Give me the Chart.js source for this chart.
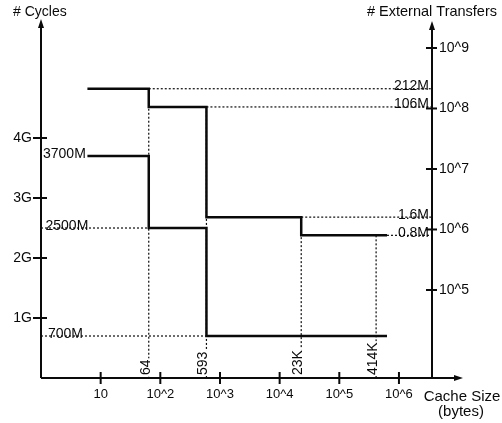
<!DOCTYPE html>
<html><head><meta charset="utf-8">
<script src="https://cdn.jsdelivr.net/npm/chart.js@4.4.0/dist/chart.umd.min.js"></script>
<style>html,body{margin:0;padding:0;background:#fff}canvas{display:block}</style>
</head><body>
<canvas id="c" width="502" height="423"></canvas>
<script>
// ---- data (cache size in bytes, values in millions) ----
const breakValues = [64, 593, 23000, 414000];
const breakLabels = ['64', '593', '23K', '414K'];
const cyclesX = [6, 64, 593, 630000];
const cyclesM = [3700, 2500, 700, 700];
const cycleLabels = ['3700M', '2500M', '700M'];
const transfersX = [6, 64, 593, 23000, 630000];
const transfersM = [212, 106, 1.6, 0.8, 0.8];
const transferLabels = ['212M', '106M', '1.6M', '0.8M'];
const xTicks = [10, 100, 1000, 1e4, 1e5, 1e6];
const xTickLabels = ['10', '10^2', '10^3', '10^4', '10^5', '10^6'];
const yTicks = [1000, 2000, 3000, 4000];
const yTickLabels = ['1G', '2G', '3G', '4G'];
const y2Ticks = [1e5, 1e6, 1e7, 1e8, 1e9];
const y2TickLabels = ['10^5', '10^6', '10^7', '10^8', '10^9'];

const INK = '#0a0a0a';
const FONT = '"Liberation Sans", Arial, Helvetica, sans-serif';

function valueBefore(xs, vs, b) {
  let v = vs[0];
  for (let i = 0; i < xs.length; i++) if (xs[i] < b) v = vs[i];
  return v;
}

const overlay = {
  id: 'overlay',
  beforeDraw(chart) {
    const ctx = chart.ctx;
    ctx.save(); ctx.fillStyle = '#fff'; ctx.fillRect(0, 0, chart.width, chart.height); ctx.restore();
  },
  beforeDatasetsDraw(chart) {
    const {ctx, chartArea: a, scales: {x, y, y2}} = chart;
    const X = v => x.getPixelForValue(v), Y = v => y.getPixelForValue(v), Y2 = v => y2.getPixelForValue(v * 1e6);
    const seg = (x1, y1, x3, y3) => { ctx.beginPath(); ctx.moveTo(x1, y1); ctx.lineTo(x3, y3); ctx.stroke(); };
    ctx.save();
    ctx.strokeStyle = INK; ctx.lineWidth = 1.2; ctx.setLineDash([2, 2]);
    // transfers: dotted to right axis from the end of each level
    for (let i = 0; i < transferLabels.length; i++)
      seg(X(transfersX[i + 1]), Y2(transfersM[i]), a.right, Y2(transfersM[i]));
    // cycles: dotted from left axis to the end of the 2500M and 700M levels
    for (let i = 1; i < cycleLabels.length; i++)
      seg(a.left, Y(cyclesM[i]), X(cyclesX[i + 1]), Y(cyclesM[i]));
    // vertical dotted lines at the breakpoints
    breakValues.forEach(b => {
      const top = Math.min(Y(valueBefore(cyclesX, cyclesM, b)), Y2(valueBefore(transfersX, transfersM, b)));
      seg(X(b), top, X(b), a.bottom);
    });
    ctx.setLineDash([]);
    // axes
    ctx.lineWidth = 2;
    ctx.fillStyle = INK;
    seg(a.left, a.bottom, a.left, a.top + 4);
    seg(a.right, a.bottom, a.right, a.top + 6);
    seg(a.left, a.bottom, 458, a.bottom);
    const up = (px, tip) => { ctx.beginPath(); ctx.moveTo(px, tip); ctx.lineTo(px - 3, tip + 9); ctx.lineTo(px + 3, tip + 9); ctx.closePath(); ctx.fill(); };
    up(a.left, a.top - 1);
    up(a.right, a.top + 1);
    ctx.beginPath(); ctx.moveTo(463, a.bottom); ctx.lineTo(454, a.bottom - 3); ctx.lineTo(454, a.bottom + 3); ctx.closePath(); ctx.fill();
    yTicks.forEach(v => seg(a.left - 8, Y(v), a.left + 6, Y(v)));
    y2Ticks.forEach(v => seg(a.right - 6, y2.getPixelForValue(v), a.right + 5, y2.getPixelForValue(v)));
    xTicks.forEach(v => seg(X(v), a.bottom - 6, X(v), a.bottom + 6));
    ctx.restore();
  },
  afterDatasetsDraw(chart) {
    const {ctx, chartArea: a, scales: {x, y, y2}} = chart;
    const X = v => x.getPixelForValue(v), Y = v => y.getPixelForValue(v), Y2 = v => y2.getPixelForValue(v * 1e6);
    ctx.save();
    ctx.fillStyle = INK;
    ctx.font = '14px ' + FONT;
    ctx.textBaseline = 'alphabetic';
    ctx.textAlign = 'left';
    cycleLabels.forEach((t, i) => ctx.fillText(t, a.left + 2 + i * 2.5, Y(cyclesM[i]) + 1.5));
    ctx.textAlign = 'right';
    transferLabels.forEach((t, i) => ctx.fillText(t, a.right - 3, Y2(transfersM[i]) + 1.5));
    // rotated breakpoint labels
    breakLabels.forEach((t, i) => {
      ctx.save();
      ctx.translate(X(breakValues[i]) - 3, a.bottom - 3);
      ctx.rotate(-Math.PI / 2);
      const w = ctx.measureText(t).width;
      ctx.fillStyle = '#fff';
      ctx.fillRect(-1, -6, w + 2, 12);
      ctx.fillStyle = INK;
      ctx.textAlign = 'left';
      ctx.textBaseline = 'middle';
      ctx.fillText(t, 0, 0);
      ctx.restore();
    });
    // titles
    ctx.textAlign = 'left';
    ctx.textBaseline = 'alphabetic';
    ctx.font = '14px ' + FONT;
    ctx.fillText('# Cycles', 13, 16);
    ctx.font = '14.5px ' + FONT;
    ctx.fillText('# External Transfers', 367, 16);
    ctx.font = '15px ' + FONT;
    ctx.textAlign = 'center';
    ctx.fillText('Cache Size', 462, 401);
    ctx.fillText('(bytes)', 461, 416);
    ctx.restore();
  }
};

const lineStyle = { stepped: true, borderColor: INK, borderWidth: 2.5, pointRadius: 0, fill: false, tension: 0 };

new Chart(document.getElementById('c'), {
  type: 'line',
  data: {
    datasets: [
      Object.assign({ label: '# Cycles', yAxisID: 'y', data: cyclesX.map((v, i) => ({ x: v, y: cyclesM[i] })) }, lineStyle),
      Object.assign({ label: '# External Transfers', yAxisID: 'y2', data: transfersX.map((v, i) => ({ x: v, y: transfersM[i] * 1e6 })) }, lineStyle)
    ]
  },
  options: {
    responsive: false, animation: false, devicePixelRatio: 1, events: [],
    layout: { padding: { top: 20, left: 0, right: 0, bottom: 0 } },
    plugins: { legend: { display: false }, tooltip: { enabled: false } },
    scales: {
      x: {
        type: 'logarithmic', position: 'bottom', min: 1, max: 3.58e6,
        grid: { display: false, drawTicks: false }, border: { display: false },
        afterBuildTicks: s => { s.ticks = xTicks.map(v => ({ value: v })); },
        afterFit: s => { s.height = 45; },
        ticks: { callback: (v, i) => xTickLabels[i], autoSkip: false, maxRotation: 0, padding: 9, color: INK, font: { family: FONT, size: 13 } }
      },
      y: {
        type: 'linear', position: 'left', min: 0, max: 5967,
        grid: { display: false, drawTicks: false }, border: { display: false },
        afterBuildTicks: s => { s.ticks = yTicks.map(v => ({ value: v })); },
        afterFit: s => { s.width = 41; },
        ticks: { callback: (v, i) => yTickLabels[i], autoSkip: false, padding: 9, color: INK, font: { family: FONT, size: 14 } }
      },
      y2: {
        type: 'logarithmic', position: 'right', min: 3508, max: 2.9e9,
        grid: { display: false, drawTicks: false }, border: { display: false },
        afterBuildTicks: s => { s.ticks = y2Ticks.map(v => ({ value: v })); },
        afterFit: s => { s.width = 70; },
        ticks: { callback: (v, i) => y2TickLabels[i], autoSkip: false, padding: 7, color: INK, font: { family: FONT, size: 14 } }
      }
    }
  },
  plugins: [overlay]
});
</script>
</body></html>
